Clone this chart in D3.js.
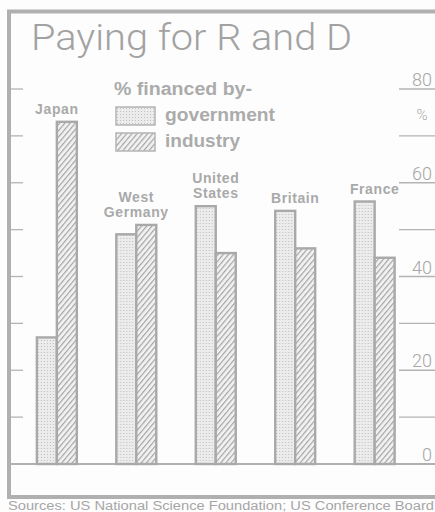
<!DOCTYPE html>
<html>
<head>
<meta charset="utf-8">
<script src="https://cdn.jsdelivr.net/npm/d3@7"></script>
<style>
  html, body { margin: 0; padding: 0; background: #fdfdfd; }
  svg { display: block; font-family: "Liberation Sans", Arial, sans-serif; }
</style>
</head>
<body>
<div class="box"></div>
<script>
// data
var countries = ["Japan", "West Germany", "United States", "Britain", "France"];
var labelLines = [["Japan"], ["West", "Germany"], ["United", "States"], ["Britain"], ["France"]];
var government = [27, 49, 55, 54, 56];
var industry = [73, 51, 45, 46, 44];
var series = ["government", "industry"];
var majorTicks = [0, 20, 40, 60, 80];
var minorTicks = [10, 30, 50, 70];

var W = 435, H = 512;
var grey = "#a9a9a9";

var svg = d3.select(".box").append("svg")
    .attr("width", W)
    .attr("height", H);

// patterns: stipple for government, hatch for industry
var defs = svg.append("defs");
var dots = defs.append("pattern")
    .attr("id", "dots")
    .attr("width", 3).attr("height", 3)
    .attr("patternUnits", "userSpaceOnUse");
dots.append("rect").attr("width", 3).attr("height", 3).attr("fill", "#ececec");
dots.append("rect").attr("x", 1).attr("y", 1).attr("width", 1).attr("height", 1).attr("fill", "#bdbdbd");

var hatch = defs.append("pattern")
    .attr("id", "hatch")
    .attr("width", 4).attr("height", 4)
    .attr("patternUnits", "userSpaceOnUse")
    .attr("patternTransform", "rotate(40)");
hatch.append("rect").attr("width", 4).attr("height", 4).attr("fill", "#f2f2f2");
hatch.append("line").attr("x1", 0).attr("y1", 0).attr("x2", 0).attr("y2", 4)
    .attr("stroke", "#a4a4a4").attr("stroke-width", 2.4);

var fills = { government: "url(#dots)", industry: "url(#hatch)" };

// frame
svg.append("path")
    .attr("d", "M445,11.5 H9 V497 H445")
    .attr("fill", "none")
    .attr("stroke", "#b0b0b0")
    .attr("stroke-width", 4);

// title
svg.append("text")
    .attr("x", 31).attr("y", 50)
    .attr("textLength", 321)
    .attr("lengthAdjust", "spacingAndGlyphs")
    .style("font-family", "Roboto, 'Liberation Sans', sans-serif")
    .style("font-weight", 300)
    .style("font-size", "36px")
    .attr("fill", "#a2a2a2")
    .text("Paying for R and D");

// scales
var y = d3.scaleLinear().domain([0, 80]).range([464, 89]);
var x = d3.scaleBand().domain(countries).range([17, 414.5])
    .paddingInner(0.497).paddingOuter(0.25);
var xs = d3.scaleBand().domain(series).range([0, x.bandwidth()]);

// left ticks
svg.append("g").selectAll("line")
    .data(majorTicks.concat(minorTicks).filter(function(d) { return d > 0; }))
    .enter().append("line")
    .attr("x1", 11).attr("x2", 23)
    .attr("y1", function(d) { return y(d); })
    .attr("y2", function(d) { return y(d); })
    .attr("stroke", "#b4b4b4").attr("stroke-width", 1.3);

// right axis
var right = svg.append("g");
right.selectAll("line")
    .data(majorTicks.concat(minorTicks).filter(function(d) { return d > 0; }))
    .enter().append("line")
    .attr("x1", 399).attr("x2", 440)
    .attr("y1", function(d) { return y(d); })
    .attr("y2", function(d) { return y(d); })
    .attr("stroke", "#b4b4b4").attr("stroke-width", 1.3);
right.selectAll("text")
    .data(majorTicks)
    .enter().append("text")
    .attr("x", 432)
    .attr("y", function(d) { return y(d) - 3; })
    .attr("text-anchor", "end")
    .style("font-family", "Roboto, 'Liberation Sans', sans-serif")
    .style("font-weight", 300)
    .style("font-size", "18px")
    .attr("fill", "#a6a6a6")
    .text(function(d) { return d; });
right.append("text")
    .attr("x", 422).attr("y", 120)
    .attr("text-anchor", "middle")
    .style("font-family", "Roboto, 'Liberation Sans', sans-serif")
    .style("font-weight", 300)
    .style("font-size", "15px")
    .attr("fill", "#a6a6a6")
    .text("%");

// baseline
svg.append("line")
    .attr("x1", 11).attr("x2", W)
    .attr("y1", y(0)).attr("y2", y(0))
    .attr("stroke", "#b0b0b0").attr("stroke-width", 2);

// bars
var rows = countries.map(function(c, i) {
    return { country: c, lines: labelLines[i], government: government[i], industry: industry[i] };
});

var group = svg.append("g").selectAll("g.country")
    .data(rows)
    .enter().append("g")
    .attr("class", "country")
    .attr("transform", function(d) { return "translate(" + x(d.country) + ",0)"; });

group.selectAll("rect")
    .data(function(d) { return series.map(function(s) { return { key: s, value: d[s] }; }); })
    .enter().append("rect")
    .attr("x", function(d) { return xs(d.key); })
    .attr("y", function(d) { return y(d.value); })
    .attr("width", xs.bandwidth())
    .attr("height", function(d) { return y(0) - y(d.value); })
    .attr("fill", function(d) { return fills[d.key]; })
    .attr("stroke", grey)
    .attr("stroke-width", 2.4);

// country names above the bars
group.each(function(d) {
    var top = y(Math.max(d.government, d.industry)) - 8;
    var n = d.lines.length;
    d3.select(this).selectAll("text")
        .data(d.lines)
        .enter().append("text")
        .attr("x", x.bandwidth() / 2)
        .attr("y", function(t, i) { return top - (n - 1 - i) * 15; })
        .attr("text-anchor", "middle")
        .style("font-weight", "bold")
        .style("font-size", "14px")
        .style("letter-spacing", "0.6px")
        .attr("fill", "#a9a9a9")
        .text(function(t) { return t; });
});

// legend
var legend = svg.append("g");
legend.append("text")
    .attr("x", 114).attr("y", 95)
    .attr("textLength", 138)
    .attr("lengthAdjust", "spacingAndGlyphs")
    .style("font-size", "18px")
    .style("font-weight", "bold")
    .attr("fill", "#ababab")
    .text("% financed by-");

var item = legend.selectAll("g.item")
    .data(series)
    .enter().append("g")
    .attr("class", "item")
    .attr("transform", function(d, i) { return "translate(116," + (107 + i * 26) + ")"; });
item.append("rect")
    .attr("width", 39).attr("height", 18)
    .attr("fill", function(d) { return fills[d]; })
    .attr("stroke", "#b4b4b4")
    .attr("stroke-width", 1.5);
item.append("text")
    .attr("x", 49).attr("y", 14)
    .attr("textLength", function(d) { return d == "government" ? 110 : 75; })
    .attr("lengthAdjust", "spacingAndGlyphs")
    .style("font-size", "18px")
    .style("font-weight", "bold")
    .attr("fill", "#ababab")
    .text(function(d) { return d; });

// source
svg.append("text")
    .attr("x", 8).attr("y", 509.5)
    .attr("textLength", 426)
    .attr("lengthAdjust", "spacingAndGlyphs")
    .style("font-size", "12px")
    .attr("fill", "#a6a6a6")
    .text("Sources: US National Science Foundation; US Conference Board");
</script>
</body>
</html>
